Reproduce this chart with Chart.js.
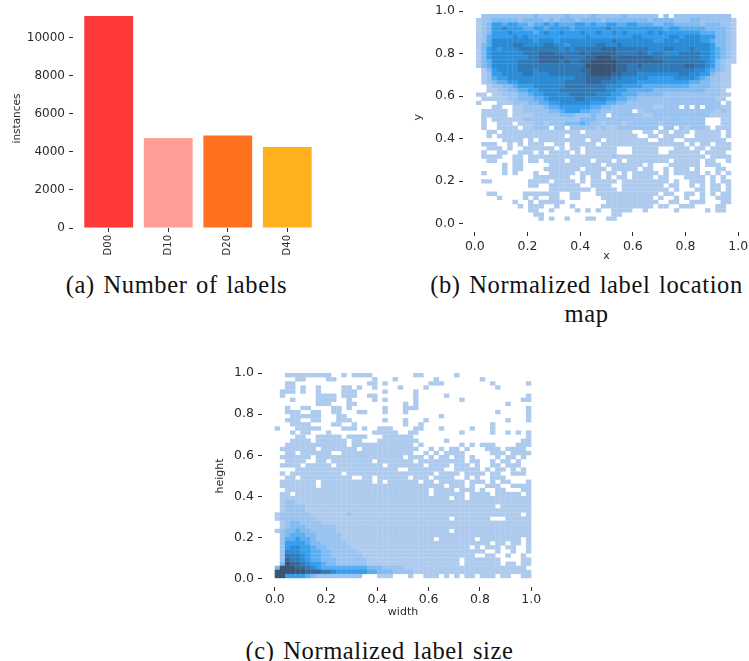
<!DOCTYPE html>
<html>
<head>
<meta charset="utf-8">
<title>Label statistics</title>
<script src="https://cdn.jsdelivr.net/npm/chart.js@4"></script>
<style>
    html, body { margin: 0; background: #fff; }
    body { position: relative; width: 749px; height: 661px; overflow: hidden; }
    .box { position: absolute; filter: blur(0.4px); }
    .cap { position: absolute; text-align: center; white-space: nowrap; font-family: "Liberation Serif", serif; font-size: 24.5px; color: #111; line-height: 29px; letter-spacing: 0.6px; word-spacing: 2px; }
</style>
</head>
<body>
<div class="box" style="left:0;top:0;width:330px;height:262px"><canvas id="barChart"></canvas></div>
<div class="box" style="left:400px;top:0;width:350px;height:266px"><canvas id="locationChart"></canvas></div>
<div class="box" style="left:200px;top:360px;width:349px;height:266px"><canvas id="sizeChart"></canvas></div>
<div class="cap" style="left:0;width:353px;top:270px">(a) Number of labels</div>
<div class="cap" style="left:423px;width:327px;top:270px">(b) Normalized label location<br>map</div>
<div class="cap" style="left:200px;width:359px;top:636px">(c) Normalized label size</div>
<script>
const categories = ["D00", "D10", "D20", "D40"];
const instances = [11160, 4740, 4870, 4260];
const barColors = ["#ff3838", "#ff9d97", "#ff701f", "#ffb21d"];
const barTicks = [0, 2000, 4000, 6000, 8000, 10000];
const unitTicks = [0, 0.2, 0.4, 0.6, 0.8, 1];

// colour per density level, 0 is an empty cell
const levelColors = [null, "#aecbee", "#9ac3f0", "#80baf2", "#5cadf0", "#349ded", "#2b8bd4", "#2f79b6", "#35679a", "#3c5474"];

// density level of each cell, top row first
const locationRows = [
    "0222222222 2322222322 2232222232 2222202022 2222222220",
    "1223333323 3332323332 3333233333 3332333322 2332222221",
    "1235545544 3445454445 5454455445 5444334433 3332333221",
    "1235565554 4554555545 5555565555 5555554554 4444333321",
    "1235556555 5456556555 6556556565 5556565555 5554443321",
    "1245555656 5555555555 5655555555 6655555665 6665553321",
    "1246666666 6566656666 6666667666 6666556656 6665543321",
    "1346666776 6667766566 6667766766 6666666666 6666653321",
    "1356566677 7777776767 7777888777 7776667766 6766654321",
    "1356666667 7788877777 8788888777 7876776667 7776654321",
    "1356666666 7788888777 7889998888 8888777777 7776654321",
    "1346666677 7788887877 8899999888 8888887777 7777653211",
    "1346666677 7777777777 7999999887 7877777777 8877653210",
    "0135666677 7677777777 8899999887 7777777777 7766543210",
    "0125566667 7666777777 7899998877 7666666667 7665532110",
    "0124556666 6666666667 7888887766 6665555566 6654322110",
    "0123445566 6666666777 7888777666 6555555555 5443322110",
    "0012233455 5666666777 7777766655 5544444444 4333322110",
    "0011223344 5566667777 7777766554 4444333333 3333222100",
    "1101122233 4556666677 7776665544 4333332222 2222222110",
    "0111112233 3445666667 7666655443 3222222222 2222221100",
    "1000111222 3344556666 6655544332 2222222222 2222222010",
    "0001100112 2223445555 5544332222 2222112220 2020222110",
    "0111110112 2222334555 4433222222 0122222222 2222221210",
    "0111110111 1222223332 2232202222 2211222222 2222211110",
    "0101111112 2222222222 3332222222 2222222222 2222000110",
    "0100111011 1221222333 4322122212 2222212222 2222000110",
    "0100111101 1222022022 2221211222 2222202202 1222101110",
    "0011011111 1111111111 0111111111 0011011011 1011111010",
    "0010111111 1111111011 1111111111 1001101111 0011111010",
    "0000011110 1011111111 1011011111 1110011100 1111111100",
    "0111001010 1110011011 1110111111 1111111111 0101101110",
    "0011101001 1111101011 0111111000 1111100011 1011011110",
    "0100110011 1010111101 0111111000 1111100111 1110111100",
    "0111100110 1111111111 1111112111 1111111111 1111011110",
    "0011000110 1101111011 1101110101 1111111011 1110110010",
    "0000010110 0000111111 1111011111 1101000111 1110111000",
    "0000010110 0001111111 0111101111 1011001011 1010001100",
    "0100010100 0100111110 1111011010 1111101011 1110101010",
    "0000000000 0111111100 1011010110 1111011000 1111010100",
    "0110000000 1111011110 1011111011 1111111010 0111010110",
    "0000000000 1100111111 0011110011 1111110110 0101011010",
    "0000000000 0000111111 1101111011 1111111010 0011011010",
    "0011000001 1111110011 0001111111 1111101100 1101010110",
    "0000100001 0100110011 0000111111 1111010010 1001001110",
    "0000000100 1011111000 0000011111 1111100110 0111000110",
    "0000000010 1110010010 0000111111 1111011001 1100001100",
    "0000000000 1100100001 0101001111 0010000010 0000101100",
    "0000000000 0110000000 0000001100 0000000000 0000000000",
    "0000000000 0010100100 0110011000 0000000000 0000000000"
];

const sizeRows = [
    "0011111111 1001011110 0000000110 0000010000 0000000000",
    "0000110000 1100000001 0001000000 0100000000 1000000000",
    "0011000000 0000000011 0100000000 1110000000 0010000001",
    "0011010010 0001101001 0000100001 0000000000 0001000000",
    "0111010010 0001110000 0100000100 0000000000 0000000000",
    "0100000011 1101110011 0000000100 0001000000 0000000001",
    "0001000011 1100100001 0100000100 0000001000 0000000011",
    "0000000011 1000110000 0000010100 0000000000 0000010000",
    "0010011000 0110100000 0100011100 0000000000 0000000001",
    "0011100110 0110001100 0100010000 0000000000 0001000001",
    "0001111110 0011000000 0000000000 0010000000 0000000001",
    "0011100110 0011100000 0100010001 0000000000 0000010001",
    "0001111000 0110010000 0000010010 0000000000 0010000000",
    "1000111110 0001110100 1110000110 0010000010 0010000000",
    "0001011000 1000000001 1111001100 0000001000 0010010101",
    "0000110011 1110111100 0111111000 0000000000 0000000001",
    "0001111011 1111011000 1111111100 0001000000 0000000011",
    "0011111111 1111011111 1111111010 0000001010 1110000111",
    "0111111101 1111110111 1111111100 1010110100 0111011110",
    "0011011111 1001111111 1111111001 0101111000 0011101111",
    "0111111011 1111111111 1111101110 1011011010 0001011010",
    "0011110011 0111111110 1111111011 1111111011 0010110100",
    "0111101111 1011111111 1011111110 1111011101 0011011100",
    "0000111111 1111111111 1111001111 1110011111 0101101010",
    "0101111111 1110111111 1111111111 1011110111 1011001110",
    "0011011111 1111100110 1111110111 0111100101 0011100000",
    "0111111101 1111111110 1011111101 1011111011 1010110001",
    "0111111101 1111111111 1111111111 1110111010 0111001111",
    "0011111111 1111111111 1111111111 0111101110 1001100011",
    "0110111111 1111111111 1111111111 0111111011 1101111101",
    "0111111111 1111111111 1111111111 1111011011 1111111111",
    "0122111111 1111111111 1111111111 1111111111 1111111111",
    "0122221111 1111111111 1111111111 1111111111 1110111111",
    "0122221111 1111111111 1111111111 1111111111 1111111111",
    "1222222111 1111211111 1111111111 1111111111 1111111101",
    "1222222211 1111111111 1111111111 1111011111 1100011111",
    "0123322221 1111111111 1111111111 1111111111 1111111111",
    "0123332222 2211111111 1111111111 1111111111 1111111111",
    "1233433222 2211111111 1111111111 1111011111 1111111111",
    "0234443322 2221111111 1111111111 1111111111 1111111111",
    "0244544322 2221111111 1111111111 1011111110 1111111101",
    "0255554332 2222111111 1111111111 1111111111 1101101101",
    "0256655433 2222211111 1111111111 1111111101 0111011001",
    "0266655443 3222221111 1111111111 1111111111 1001001001",
    "0277765443 3222222111 1111111111 1111111110 0110010010",
    "0287765443 3322222211 1111111111 1111110111 1111000011",
    "0398876554 3322222211 1111111111 1111110111 1111011011",
    "3999887654 4444444433 3222211111 1111111111 1111111110",
    "9999998887 7655555544 3332222111 1111111111 1111111111",
    "9955554322 2222222000 1110001001 1101010110 1110110011"
];

const tickColor = "#2a2a2a";
const fontFamily = "'DejaVu Sans', sans-serif";

// fixes the room an axis takes, so the plot area lands where it should
function fixAxis(size) {
    return s => {
        if (s.isHorizontal()) s.height = size; else s.width = size;
        s.paddingLeft = s.paddingRight = s.paddingTop = s.paddingBottom = 0;
    };
}

function axis(opts) {
    return {
        type: "linear",
        offset: false,
        min: opts.min,
        max: opts.max,
        position: opts.position,
        afterBuildTicks: s => { s.ticks = opts.ticks.map(value => ({ value })); },
        afterFit: fixAxis(opts.size),
        grid: { drawOnChartArea: false, drawTicks: true, tickLength: 4, tickWidth: 1, tickColor: tickColor, offset: false },
        border: { display: false },
        title: {
            display: !!opts.title,
            text: opts.title,
            color: tickColor,
            font: { family: fontFamily, size: opts.titleSize || 11 },
            padding: opts.titlePadding
        },
        ticks: {
            autoSkip: false,
            color: tickColor,
            padding: opts.tickPadding === undefined ? 4 : opts.tickPadding,
            minRotation: opts.rotate || 0,
            maxRotation: opts.rotate || 0,
            font: { family: fontFamily, size: opts.tickSize || 12.5 },
            callback: opts.format
        }
    };
}

function setCanvas(id, w, h) {
    const c = document.getElementById(id);
    c.style.width = w + "px";
    c.style.height = h + "px";
    c.width = w;
    c.height = h;
    return c;
}

const baseOptions = {
    responsive: false,
    animation: false,
    plugins: { legend: { display: false }, tooltip: { enabled: false } }
};

new Chart(setCanvas("barChart", 330, 262), {
    type: "bar",
    data: {
        datasets: [{
            data: instances.map((v, i) => ({ x: i, y: v })),
            backgroundColor: barColors,
            categoryPercentage: 1,
            barPercentage: 0.82
        }]
    },
    options: {
        ...baseOptions,
        layout: { padding: { right: 7, top: 9 } },
        scales: {
            x: axis({ min: -0.6, max: 3.6, size: 34, position: "bottom", ticks: categories.map((c, i) => i), format: v => categories[v], rotate: 90, tickSize: 10, tickPadding: 3, title: "" }),
            y: axis({ min: 0, max: 11526, size: 73, position: "left", ticks: barTicks, format: v => String(v), tickSize: 12, title: "instances", titleSize: 10.5, titlePadding: { top: 11, bottom: 0 } })
        }
    }
});

// one floating bar per non-empty cell, slightly oversized so no seams show
function heatmap(id, rows, x0, x1, y0, y1, plot) {
    const cells = [];
    const colors = [];
    const dx = (x1 - x0) / 50;
    const dy = (y1 - y0) / 50;
    rows.forEach((row, r) => {
        row.replace(/ /g, "").split("").forEach((ch, c) => {
            if (ch === "0") return;
            const top = y1 - r * dy;
            cells.push({ x: x0 + (c + 0.5) * dx, y: [top - dy * 1.06, top] });
            colors.push(levelColors[+ch]);
        });
    });
    new Chart(setCanvas(id, plot.width, 266), {
        type: "bar",
        data: { datasets: [{ data: cells, backgroundColor: colors, categoryPercentage: 1, barPercentage: 1.06, borderWidth: 0 }] },
        options: {
            ...baseOptions,
            layout: { padding: { top: plot.top, right: plot.right } },
            scales: {
                x: axis({ min: plot.xMin, max: 1 - plot.xMin, size: plot.bottom, position: "bottom", ticks: unitTicks, format: v => v.toFixed(1), tickPadding: plot.xTickPad, title: plot.xTitle, titlePadding: { top: 0, bottom: plot.xTitlePad } }),
                y: axis({ min: plot.yMin, max: 1 - plot.yMin, size: plot.left, position: "left", ticks: unitTicks, format: v => v.toFixed(1), title: plot.yTitle, titlePadding: { top: plot.yTitlePad, bottom: 0 } })
            }
        }
    });
}

heatmap("locationChart", locationRows, 0.005, 0.993, 0.014, 0.986, {
    width: 350, top: 2.5, right: 0, left: 63, bottom: 34, xMin: -0.045, yMin: -0.04, xTickPad: 3,
    xTitle: "x", yTitle: "y", xTitlePad: 3, yTitlePad: 12
});

heatmap("sizeChart", sizeRows, 0, 1, 0.005, 1, {
    width: 349, top: 5, right: 5, left: 62, bottom: 39, xMin: -0.05, yMin: -0.039, xTickPad: 1,
    xTitle: "width", yTitle: "height", xTitlePad: 7, yTitlePad: 14
});
</script>
</body>
</html>
